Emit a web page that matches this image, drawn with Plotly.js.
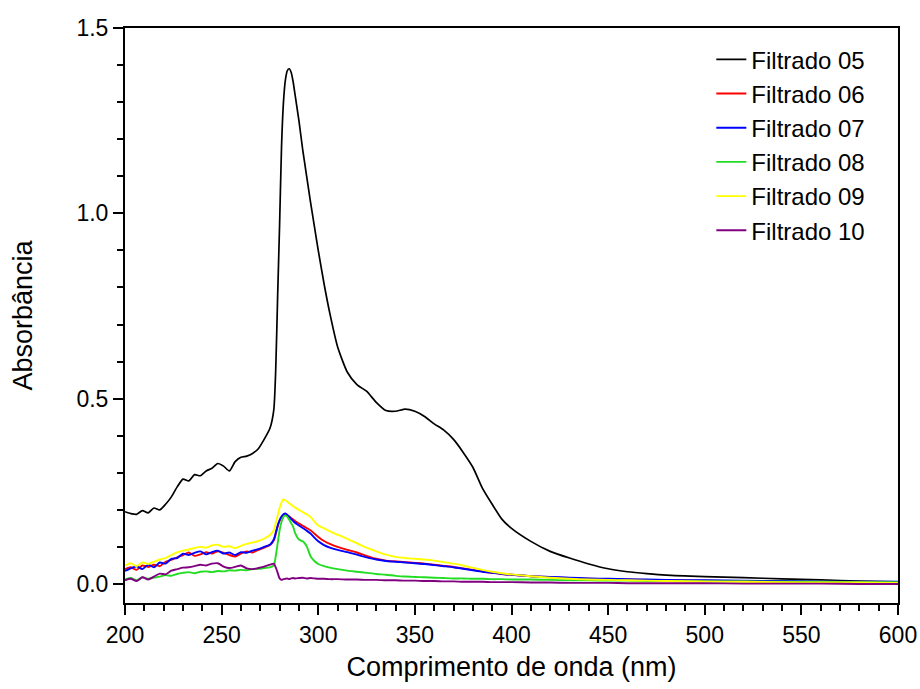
<!DOCTYPE html>
<html>
<head>
<meta charset="utf-8">
<script src="https://cdn.plot.ly/plotly-3.0.1.min.js"></script>
<style>html,body{margin:0;padding:0;background:#fff}#chart{width:920px;height:689px}</style>
</head>
<body>
<div id="chart"></div>
<script>
const wavelength = [200,203,206,209,212,215,218,221,224,227,230,233,236,239,242,245,248,251,254,257,260,263,266,269,272,275,
  277,278,279,280,281,282,283,284,285,286,287,288,
  290,292,294,296,298,300,
  303,306,
  310,315,320,325,330,335,340,345,350,355,360,365,370,375,380,385,390,395,400,
  410,420,430,440,450,460,470,480,
  500,520,540,560,580,600];

const filtrado05 = [0.195,0.19,0.188,0.198,0.192,0.205,0.2,0.215,0.235,0.262,0.283,0.278,0.295,0.292,0.305,0.312,0.325,0.318,0.305,0.33,0.342,0.345,0.352,0.365,0.39,0.42,
  0.47,0.58,0.78,0.97,1.18,1.30,1.36,1.385,1.39,1.38,1.355,1.32,
  1.25,1.17,1.10,1.03,0.965,0.90,
  0.81,0.73,
  0.64,0.572,0.538,0.52,0.49,0.468,0.466,0.472,0.466,0.452,0.432,0.415,0.39,0.355,0.315,0.258,0.215,0.175,0.15,
  0.115,0.088,0.07,0.054,0.041,0.033,0.028,0.024,
  0.02,0.017,0.014,0.011,0.008,0.006];

const filtrado06 = [0.04,0.045,0.038,0.05,0.046,0.052,0.048,0.06,0.065,0.072,0.078,0.085,0.076,0.08,0.086,0.082,0.088,0.084,0.078,0.074,0.082,0.088,0.085,0.092,0.098,0.105,
  0.118,0.135,0.155,0.17,0.18,0.186,0.188,0.185,0.182,0.178,0.174,0.17,
  0.163,0.157,0.151,0.145,0.136,0.127,
  0.116,0.108,
  0.10,0.092,0.085,0.076,0.068,0.063,0.061,0.059,0.057,0.055,0.052,0.049,0.046,0.042,0.038,0.034,0.03,0.027,0.025,
  0.021,0.018,0.016,0.014,0.013,0.012,0.011,0.010,
  0.009,0.008,0.007,0.006,0.005,0.004];

const filtrado07 = [0.035,0.042,0.048,0.04,0.052,0.045,0.058,0.055,0.068,0.07,0.082,0.078,0.084,0.088,0.08,0.086,0.09,0.082,0.085,0.078,0.086,0.084,0.09,0.094,0.1,0.106,
  0.12,0.138,0.158,0.172,0.182,0.188,0.19,0.186,0.181,0.175,0.17,0.165,
  0.158,0.151,0.144,0.136,0.125,0.115,
  0.105,0.098,
  0.092,0.086,0.079,0.072,0.066,0.062,0.06,0.058,0.056,0.054,0.051,0.048,0.045,0.041,0.037,0.033,0.03,0.027,0.025,
  0.021,0.019,0.017,0.015,0.014,0.013,0.012,0.011,
  0.01,0.009,0.008,0.007,0.006,0.006];

const filtrado08 = [0.012,0.016,0.01,0.018,0.014,0.017,0.02,0.024,0.022,0.027,0.03,0.032,0.029,0.033,0.034,0.032,0.035,0.034,0.037,0.036,0.038,0.037,0.04,0.041,0.043,0.045,
  0.05,0.075,0.11,0.145,0.168,0.181,0.185,0.181,0.173,0.164,0.155,0.138,
  0.12,0.115,0.102,0.075,0.062,0.054,
  0.048,0.044,
  0.04,0.036,0.033,0.03,0.027,0.025,0.022,0.02,0.019,0.018,0.017,0.016,0.015,0.015,0.014,0.014,0.013,0.013,0.012,
  0.012,0.011,0.01,0.01,0.009,0.009,0.008,0.008,
  0.007,0.007,0.006,0.006,0.005,0.005];

const filtrado09 = [0.05,0.056,0.048,0.058,0.054,0.06,0.066,0.07,0.078,0.085,0.09,0.093,0.097,0.1,0.098,0.104,0.106,0.1,0.102,0.097,0.103,0.108,0.112,0.116,0.122,0.132,
  0.145,0.165,0.185,0.205,0.22,0.228,0.226,0.222,0.218,0.214,0.21,0.206,
  0.2,0.194,0.188,0.181,0.168,0.158,
  0.15,0.142,
  0.133,0.122,0.11,0.098,0.088,0.079,0.073,0.07,0.068,0.066,0.063,0.059,0.055,0.05,0.044,0.038,0.033,0.029,0.026,
  0.021,0.017,0.014,0.012,0.011,0.01,0.009,0.008,
  0.007,0.006,0.005,0.004,0.004,0.003];

const filtrado10 = [0.01,0.014,0.008,0.018,0.012,0.02,0.028,0.026,0.036,0.04,0.044,0.045,0.048,0.052,0.05,0.055,0.056,0.047,0.043,0.046,0.05,0.042,0.04,0.043,0.047,0.052,
  0.055,0.045,0.03,0.015,0.011,0.013,0.014,0.015,0.013,0.015,0.016,0.015,
  0.016,0.017,0.015,0.016,0.015,0.014,
  0.014,0.013,
  0.013,0.012,0.012,0.011,0.011,0.01,0.01,0.009,0.009,0.008,0.008,0.007,0.007,0.006,0.006,0.006,0.005,0.005,0.005,
  0.004,0.004,0.003,0.003,0.003,0.002,0.002,0.002,
  0.002,0.001,0.001,0.001,0.0,0.0];

const seriesNames = ['Filtrado 05','Filtrado 06','Filtrado 07','Filtrado 08','Filtrado 09','Filtrado 10'];
const seriesValues = [filtrado05, filtrado06, filtrado07, filtrado08, filtrado09, filtrado10];
const seriesColors = ['#000000','#ff0000','#0000ff','#22dd22','#ffff00','#800080'];

const traces = seriesValues.map((vals, i) => ({
  type: 'scatter', mode: 'lines', x: wavelength, y: vals, name: seriesNames[i],
  line: {color: seriesColors[i], width: i === 0 ? 1.7 : 1.9, shape: 'spline', smoothing: 0.6}
}));

const FONT = 'Liberation Sans, Arial, sans-serif';
const layout = {
  width: 920, height: 689,
  margin: {l: 125, r: 22, t: 28, b: 86},
  paper_bgcolor: '#fff', plot_bgcolor: '#fff',
  font: {family: FONT, color: '#000', size: 23},
  showlegend: true,
  legend: {x: 0.7585, y: 0.984, xanchor: 'left', yanchor: 'top', bgcolor: 'rgba(0,0,0,0)',
    borderwidth: 0, font: {family: FONT, size: 24, color: '#000'}, tracegroupgap: 0},
  xaxis: {
    range: [200, 600], dtick: 50, tick0: 200, showgrid: false, zeroline: false,
    showline: true, linecolor: '#000', linewidth: 2, mirror: true,
    ticks: 'outside', ticklen: 10, tickwidth: 2, tickcolor: '#000',
    tickfont: {family: FONT, size: 23, color: '#000'},
    minor: {dtick: 10, ticks: 'outside', ticklen: 6, tickwidth: 2, tickcolor: '#000', showgrid: false},
    title: {text: 'Comprimento de onda (nm)', font: {family: FONT, size: 27, color: '#000'}, standoff: 11}
  },
  yaxis: {
    range: [-0.0513, 1.5], dtick: 0.5, tick0: 0, tickformat: '.1f', showgrid: false, zeroline: false,
    showline: true, linecolor: '#000', linewidth: 2, mirror: true,
    ticks: 'outside', ticklen: 10, tickwidth: 2, tickcolor: '#000',
    tickfont: {family: FONT, size: 23, color: '#000'},
    minor: {dtick: 0.1, ticks: 'outside', ticklen: 6, tickwidth: 2, tickcolor: '#000', showgrid: false},
    title: {text: 'Absorbância', font: {family: FONT, size: 27, color: '#000'}, standoff: 36}
  }
};

Plotly.newPlot('chart', traces, layout, {displayModeBar: false, staticPlot: true});
</script>
</body>
</html>
